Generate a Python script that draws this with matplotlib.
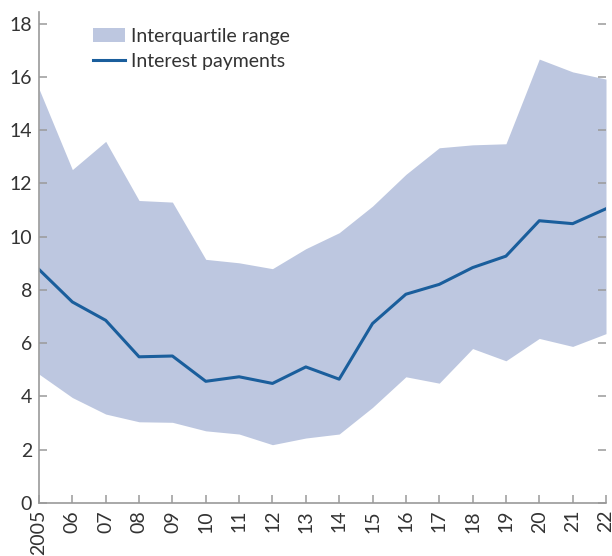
import matplotlib.pyplot as plt
from matplotlib.patches import Patch
from matplotlib.lines import Line2D

plt.rcParams["font.family"] = ["Lato", "DejaVu Sans"]

years = list(range(2005, 2023))
year_labels = ["2005"] + [f"{y % 100:02d}" for y in years[1:]]

iqr_upper = [15.55, 12.52, 13.58, 11.36, 11.30, 9.15, 9.02, 8.80, 9.55, 10.15,
             11.15, 12.34, 13.34, 13.45, 13.49, 16.67, 16.19, 15.92]
iqr_lower = [4.84, 3.96, 3.34, 3.05, 3.03, 2.71, 2.59, 2.19, 2.44, 2.59,
             3.59, 4.74, 4.50, 5.80, 5.34, 6.18, 5.88, 6.36]
interest = [8.77, 7.55, 6.86, 5.49, 5.52, 4.57, 4.74, 4.49, 5.11, 4.65,
            6.74, 7.84, 8.21, 8.84, 9.27, 10.60, 10.49, 11.05]

FILL = "#bdc7e0"
LINE = "#1a5e9c"
GREY = "#9a9a9a"
TEXT = "#333333"

fig = plt.figure(figsize=(6.12, 5.56), dpi=100)
ax = fig.add_axes([39 / 612, 1 - 503 / 556, (606 - 39) / 612, (503 - 11.7) / 556])

ax.fill_between(years, iqr_lower, iqr_upper, color=FILL, linewidth=0)
ax.plot(years, interest, color=LINE, linewidth=2.2)

ax.set_xlim(2005, 2022)
ax.set_ylim(0, 18.45)
ax.set_yticks(range(0, 19, 2))
ax.set_xticks(years)
ax.set_xticklabels(year_labels, rotation=90)

for side in ("top", "right"):
    ax.spines[side].set_visible(False)
for side in ("left", "bottom"):
    ax.spines[side].set_color(GREY)
    ax.spines[side].set_linewidth(1.2)

ax.tick_params(axis="both", direction="in", length=5.5, width=1.1, color=GREY,
               labelsize=14, labelcolor=TEXT)
ax.tick_params(axis="y", right=True, labelright=False, pad=5)
ax.tick_params(axis="x", pad=5)

handles = [Patch(facecolor=FILL, edgecolor="none", label="Interquartile range"),
           Line2D([0], [0], color=LINE, linewidth=2.2, label="Interest payments")]
leg = ax.legend(handles=handles, loc="upper left", bbox_to_anchor=(0.075, 0.991),
                frameon=False, fontsize=14, handlelength=1.65, handletextpad=0.3,
                labelspacing=0.4, borderaxespad=0.2)
for t in leg.get_texts():
    t.set_color(TEXT)

fig.savefig("out.png", dpi=100)
